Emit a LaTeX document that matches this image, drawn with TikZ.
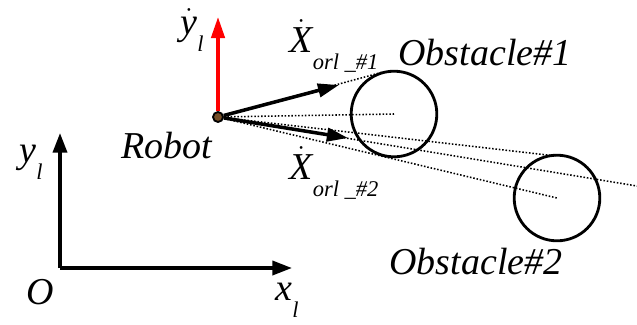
\documentclass[tikz,border=0pt]{standalone}
\usepackage{fontspec}
\setmainfont{Liberation Serif}
\usetikzlibrary{arrows.meta}

\newcommand{\dotlet}[1]{\ensuremath{\dot{\mbox{\itshape #1}}}}
\newcommand{\lowsub}[1]{\raisebox{-0.45em}{\fontsize{16}{16}\selectfont #1}}

\begin{document}
\begin{tikzpicture}[x=0.025cm,y=-0.025cm,
  lbl/.style={font=\fontsize{27}{27}\selectfont\itshape,inner sep=0pt},
  vec/.style={-{Triangle[length=15pt,width=9.5pt]},line width=2.5pt},
  axis/.style={-{Triangle[length=14pt,width=10pt]},line width=2.5pt},
  ray/.style={dash pattern=on 1.1pt off 1.3pt,line width=1.1pt},
  obst/.style={draw,circle,line width=2pt,minimum size=2.14cm,inner sep=0pt}]
\useasboundingbox (0,0) rectangle (637,324);
% obstacles and robot
\node[obst] (ob1) at (394,114) {};
\node[obst] (ob2) at (557,198) {};
\node[draw,circle,fill=brown!60!black,line width=1.3pt,minimum size=0.25cm,inner sep=0pt] (rob) at (218,117) {};
% helper points
\coordinate (t1) at (383,72);
\coordinate (t2) at (556,156);
\coordinate (far) at (637,186);
\coordinate (v1) at (339,85);
\coordinate (v2) at (348,138);
\coordinate (yl) at (218,17);
\coordinate (org) at (60,268);
\coordinate (ytip) at (60,133);
\coordinate (xtip) at (292,268);
% rays
\draw[ray] (rob) -- (t1);
\draw[ray] (rob) -- (ob1.center);
\draw[ray] (rob) -- (t2);
\draw[ray] (rob) -- (far);
\draw[ray] (rob) -- (ob2.center);
% velocities
\draw[vec] (rob) -- (v1);
\draw[vec] (rob) -- (v2);
\draw[vec,red] (rob) -- (yl);
% frame
\draw[axis] (org) -- (ytip);
\draw[axis] (org) -- (xtip);
% labels
\node[lbl] (lydot) at (192,30) {\dotlet{y}\lowsub{l}};
\node[lbl] (lx1) at (334,46) {\dotlet{X}\lowsub{orl \_\#1}};
\node[lbl] (lx2) at (334,173) {\dotlet{X}\lowsub{orl \_\#2}};
\node[lbl] (lob1) at (485,53) {Obstacle\#1};
\node[lbl] (lob2) at (476,262) {Obstacle\#2};
\node[lbl] (lrob) at (167,146) {Robot};
\node[lbl] (lyl) at (31,162) {y\lowsub{l}};
\node[lbl] (lo) at (40,292) {O};
\node[lbl] (lxl) at (287,300) {x\lowsub{l}};
\end{tikzpicture}
\end{document}
